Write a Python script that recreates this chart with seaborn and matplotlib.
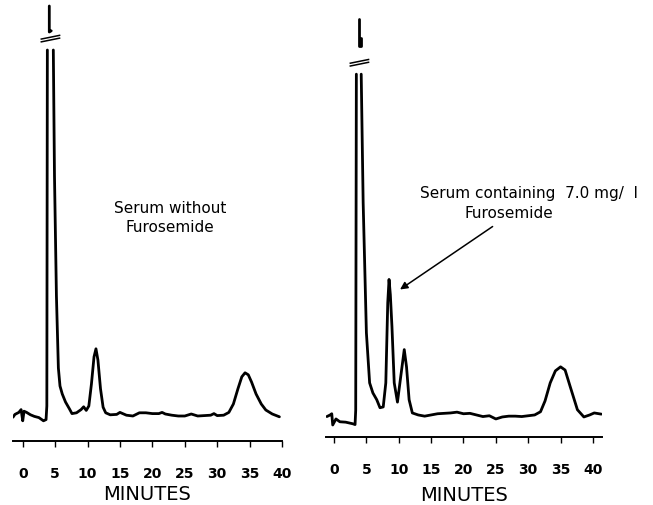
import numpy as np
import pandas as pd
import matplotlib
matplotlib.use("Agg")
import matplotlib.pyplot as plt
import seaborn as sns

# ---------------- data (detector response, arbitrary units above baseline) -------------
tick_values = [0, 5, 10, 15, 20, 25, 30, 35, 40]
tick_labels = ["0", "5", "10", "15", "20", "25", "30", "35", "40"]

# Panel A: serum without furosemide
a_time = [-1.5, -1.2, -0.6, -0.25, 0.0, 0.2, 0.6, 1.2, 1.8, 2.5, 3.2, 3.6, 3.72, 3.8,
          4.72, 4.9, 5.2, 5.5, 5.75, 6.1, 6.6, 7.2, 7.6, 8.3, 9.0, 9.4, 9.8, 10.2, 10.6,
          11.0, 11.3, 11.6, 12.0, 12.4, 12.8, 13.5, 14.5, 15.0, 16.0, 17.0, 18.0, 19.0,
          20.0, 21.0, 21.5, 22.0, 23.0, 24.0, 25.0, 26.0, 27.0, 28.0, 29.0, 29.5, 30.0,
          31.0, 31.8, 32.5, 33.2, 33.8, 34.3, 34.8, 35.3, 36.0, 36.8, 37.5, 38.5, 39.6]
a_signal = [-0.3, 0.4, 0.9, 1.6, -1.2, 1.2, 0.9, 0.3, -0.1, -0.4, -1.2, -0.9, 2.5, 91.5,
            91.5, 60.0, 30.0, 12.0, 7.5, 5.5, 3.5, 1.8, 0.6, 0.8, 1.6, 2.3, 1.4, 2.5, 8.0,
            14.8, 16.8, 14.0, 6.8, 2.2, 0.8, 0.3, 0.4, 0.9, 0.2, 0.0, 0.8, 0.8,
            0.6, 0.6, 0.9, 0.5, 0.2, 0.0, 0.0, 0.5, 0.0, 0.1, 0.2, 0.6, 0.1,
            0.2, 0.9, 3.0, 6.8, 9.8, 10.8, 10.3, 8.5, 5.5, 3.0, 1.5, 0.5, -0.2]
a_segment = [0] * 14 + [1] * (len(a_time) - 14)
# off-scale apex of the solvent front (drawn above the axis break)
a_apex_time = [4.1, 4.1, 4.4]
a_apex_signal = [102.5, 96.0, 96.3]

# Panel B: serum containing 7.0 mg/l furosemide
b_time = [-1.1, -0.6, -0.35, -0.2, 0.3, 0.9, 1.8, 2.9, 3.25, 3.35, 3.45,
          4.2, 4.5, 5.0, 5.5, 6.0, 6.6, 7.1, 7.6, 8.0, 8.3, 8.5, 8.7, 8.95, 9.3, 9.8,
          10.3, 10.85, 11.2, 11.6, 12.1, 13.0, 14.0, 15.0, 16.0, 17.0, 18.0, 19.0, 20.0,
          21.0, 22.0, 23.0, 24.0, 25.0, 26.0, 27.0, 28.0, 29.0, 30.0, 31.0, 31.9, 32.6,
          33.4, 34.2, 35.0, 35.7, 36.5, 37.6, 38.6, 39.5, 40.2, 41.3]
b_signal = [-0.4, 0.0, 0.3, -2.5, -1.0, -1.7, -1.8, -2.2, -2.4, 1.2, 85.0,
            85.0, 53.0, 20.5, 8.0, 5.5, 3.8, 1.8, 2.0, 8.0, 28.0, 33.8, 30.0, 22.0, 8.0, 3.2,
            9.5, 16.3, 12.0, 3.8, 0.5, 0.0, -0.3, 0.0, 0.3, 0.4, 0.5, 0.7, 0.3,
            0.4, 0.0, -0.4, -0.2, -1.0, -0.5, -0.3, -0.3, -0.4, -0.2, 0.0, 0.8, 3.5,
            8.0, 11.0, 12.0, 11.2, 7.0, 1.3, -0.5, 0.0, 0.5, 0.2]
b_segment = [0] * 11 + [1] * (len(b_time) - 11)
b_apex_time = [3.85, 3.85, 4.1, 4.1]
b_apex_signal = [98.75, 92.0, 92.0, 94.0]

break_a = 94.0
break_b = 87.5

# ---------------- styling --------------------------------------------------------------
sns.set_style("white")
plt.rcParams["font.family"] = ["DejaVu Sans"]
plt.rcParams["text.color"] = "black"
plt.rcParams["xtick.color"] = "black"
plt.rcParams["axes.labelcolor"] = "black"

fig = plt.figure(figsize=(6.53, 5.06), dpi=100)
axA = fig.add_axes([13 / 653, 1 - 441.7 / 506, 269 / 653, 441.7 / 506])
axB = fig.add_axes([326 / 653, 1 - 438 / 506, 276 / 653, 438 / 506])

dfA = pd.DataFrame({"time": a_time, "signal": a_signal, "seg": a_segment})
dfB = pd.DataFrame({"time": b_time, "signal": b_signal, "seg": b_segment})
apexA = pd.DataFrame({"time": a_apex_time, "signal": a_apex_signal})
apexB = pd.DataFrame({"time": b_apex_time, "signal": b_apex_signal})

lw = 2.0
for ax, df, apex in ((axA, dfA, apexA), (axB, dfB, apexB)):
    sns.lineplot(data=df, x="time", y="signal", units="seg", estimator=None,
                 sort=False, color="black", lw=lw, ax=ax, legend=False)
    sns.lineplot(data=apex, x="time", y="signal", estimator=None, sort=False,
                 color="black", lw=lw, ax=ax, legend=False)

axA.set_xlim(-1.5, 39.9)
axA.set_ylim(-6.175, 104.25)
axB.set_xlim(-1.24, 41.4)
axB.set_ylim(-5.5, 103.75)

# axis-break marks on the off-scale solvent peak
for ax, t0, lvl in ((axA, 4.2, break_a), (axB, 3.85, break_b)):
    for off in (0.0, 0.7):
        ax.plot([t0 - 1.45, t0 + 1.6], [lvl - 0.5 + off, lvl + 0.5 + off],
                color="black", lw=1.1, solid_capstyle="butt")

for ax, lp in ((axA, 3.2), (axB, 6.4)):
    for s in ("top", "right", "left"):
        ax.spines[s].set_visible(False)
    ax.spines["bottom"].set_color("black")
    ax.spines["bottom"].set_linewidth(1.4)
    ax.set_yticks([])
    ax.set_ylabel("")
    ax.set_xticks(tick_values)
    ax.set_xticklabels(tick_labels, fontsize=10, fontweight="bold", color="black")
    ax.tick_params(axis="x", direction="out", length=4, width=1.0, color="black",
                   labelcolor="black", pad=14, bottom=True)
    ax.set_xlabel("MINUTES", fontsize=14, labelpad=lp, color="black")
    ax.set_facecolor("none")
    ax.grid(False)

axA.text(22.7, 49.75, "Serum without\nFurosemide", ha="center", va="center",
         fontsize=11, linespacing=1.35, color="black")
axB.text(13.3, 55.5, "Serum containing  7.0 mg/  l", ha="left", va="center",
         fontsize=11, clip_on=False, color="black")
axB.text(27.0, 50.5, "Furosemide", ha="center", va="center", fontsize=11,
         color="black")
axB.annotate("", xy=(10.2, 31.3), xytext=(24.5, 47.0),
             arrowprops=dict(arrowstyle="-|>", color="black", lw=1.1,
                             mutation_scale=11, shrinkA=0, shrinkB=0))

fig.savefig("out.png", dpi=100)
